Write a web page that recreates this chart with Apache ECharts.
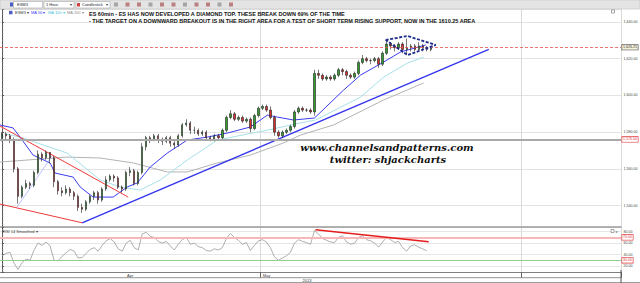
<!DOCTYPE html>
<html><head><meta charset="utf-8">
<script src="https://cdn.jsdelivr.net/npm/echarts@6/dist/echarts.min.js"></script>
<style>html,body{margin:0;padding:0;background:#fff}#c{width:640px;height:283px}</style>
</head><body><div id="c"></div>
<script>
// ---------- data ----------
const slotCount = 155; // hourly slots on the time axis (incl. empty future space)
const monthTicks = [[32, 'Apr'], [66, 'May']];
const monthStarts = [65, 130];
const yearLabel = '2013';
const titleLines = [
  'ES 60min - ES HAS NOW DEVELOPED A DIAMOND TOP. THESE BREAK DOWN 69% OF THE TIME',
  '- THE TARGET ON A DOWNWARD BREAKOUT IS IN THE RIGHT AREA FOR A TEST OF SHORT TERM RISING SUPPORT, NOW IN THE 1610.25 AREA'
];
const legendNames = ['ESM3', 'MA 50', 'MA 100', 'MA 200'];
const resistanceLevel = 1626.25;
const supportLevel = 1576.00;
const rsiBands = [70, 30];

// [open, close, low, high]
const candles = [
 [1577,1579,1575,1580],[1579,1578,1576,1580],[1578,1576,1574,1579],[1576,1560,1558,1577],[1560,1545,1541,1561],
 [1545,1550,1544,1551],[1550,1552,1549,1554],[1552,1551,1549,1553],[1551,1558,1550,1559],[1558,1568,1557,1570],
 [1568,1566,1564,1569],[1566,1569,1565,1570],[1569,1566,1563,1569],[1566,1553,1550,1567],[1553,1548,1546,1554],
 [1548,1547,1545,1550],[1547,1549,1546,1551],[1549,1547,1545,1550],[1547,1545,1543,1548],[1545,1539,1537,1546],
 [1539,1538,1536,1541],[1538,1542,1537,1543],[1542,1545,1541,1546],[1545,1547,1543,1548],[1547,1543,1541,1548],
 [1543,1549,1542,1550],[1549,1554,1548,1556],[1554,1556,1553,1557],[1556,1555,1553,1557],[1555,1550,1549,1556],
 [1550,1549,1547,1551],[1549,1558,1548,1559],[1558,1559,1556,1561],[1559,1552,1551,1560],[1552,1558,1551,1559],
 [1558,1572,1557,1574],[1572,1577,1570,1578],[1577,1576,1574,1578],[1576,1578,1575,1579],[1578,1576,1574,1579],
 [1576,1575,1573,1577],[1575,1577,1574,1578],[1577,1574,1572,1578],[1574,1573,1571,1575],[1573,1578,1572,1579],
 [1578,1584,1577,1585],[1584,1585,1583,1587],[1585,1581,1579,1586],[1581,1581,1579,1583],[1581,1579,1578,1582],
 [1579,1580,1578,1581],[1580,1577,1576,1581],[1577,1576,1575,1578],[1576,1578,1575,1579],[1578,1577,1576,1579],
 [1577,1581,1576,1582],[1581,1588,1580,1589],[1588,1590,1587,1592],[1590,1587,1586,1591],[1587,1588,1586,1589],
 [1588,1586,1585,1589],[1586,1587,1585,1588],[1587,1582,1580,1588],[1582,1589,1581,1590],[1589,1593,1588,1594],
 [1593,1594,1592,1595],[1594,1592,1591,1595],[1592,1588,1587,1594],[1588,1580,1578,1589],[1580,1578,1577,1581],
 [1578,1580,1577,1581],[1580,1581,1579,1582],[1581,1583,1580,1584],[1583,1591,1582,1592],[1591,1593,1590,1594],
 [1593,1592,1591,1594],[1592,1592,1591,1593],[1592,1591,1590,1593],[1591,1612,1589,1614],[1612,1611,1609,1614],
 [1611,1609,1608,1612],[1609,1610,1608,1611],[1610,1609,1608,1611],[1609,1611,1608,1612],[1611,1614,1610,1615],
 [1614,1613,1611,1615],[1613,1611,1609,1614],[1611,1610,1609,1612],[1610,1612,1609,1613],[1612,1618,1611,1619],
 [1618,1620,1617,1622],[1620,1619,1618,1621],[1619,1619,1617,1620],[1619,1620,1618,1621],[1620,1617,1615,1621],
 [1617,1623,1616,1624],[1623,1628,1622,1630],[1628,1627,1625,1629],[1627,1626,1624,1628],[1626,1628,1625,1629],
 [1628,1625,1623,1629],[1625,1626,1622,1631],[1626,1627,1624,1628],[1627,1625,1624,1628],[1625,1627,1624,1629],
 [1627,1626,1624,1628],[1626,1625,1624,1627],[1625,1626,1624,1627]
];
// moving averages: [slot, price]
const ma50 = [[-0.5,1583.9],[2.75,1582.3],[4.5,1577.3],[7.75,1567.5],[12,1563.2],[13.25,1557.7],[17.75,1555.5],
 [19.5,1550.1],[22.75,1544.6],[27.75,1544.6],[31.25,1550.1],[33.75,1552.3],[37,1561],[41.25,1568.6],[46.25,1575.7],
 [51.25,1577.3],[56.25,1579.5],[62,1582.8],[66.25,1589.3],[68.75,1588.2],[72.75,1586.6],[78,1587.7],[85.25,1602.9],
 [89.5,1611.1],[95.25,1618.2],[99.5,1623.7],[105.75,1627.5]];
const ma100 = [[1,1579],[4.5,1577.3],[16.25,1568.6],[24.5,1553.9],[29.5,1550.1],[34.5,1548.4],[39.5,1553.9],
 [46.25,1564.8],[53.75,1575.7],[66.25,1581.1],[74.5,1585],[78.25,1586.6],[89.5,1599.1],[95.25,1610],[101.25,1617.7],[105.25,1620.9]];
const ma200 = [[-0.5,1563.7],[16.25,1566.4],[24.5,1565.9],[32.75,1563.2],[41.25,1558.3],[46.25,1558.3],[53.75,1563.2],
 [62,1567.5],[70.25,1574.1],[74.5,1578.4],[82.75,1583.9],[95.25,1597.5],[105.25,1606.8]];
// drawn trend lines: [slot, price]
const risingSupport = [[20,1530.6],[121.5,1625.1]];
const fallingUpper = [[-0.5,1583.3],[31.5,1544.6]];
const fallingLower = [[-0.5,1540.8],[20,1530.6]];
const thinLine = [[3.75,1539.2],[12.5,1567]];
const diamond = [[95.75,1630.2],[101.2,1632.4],[108.25,1627.5],[101.25,1622],[95.75,1630.2]];
// RSI 14 smoothed, one value per candle
const rsi = [38,42,44,25,14,26,32,30,48,60,56,62,55,30,29,37,43,49,46,34,35,42,49,52,46,56,64,68,62,50,46,60,65,52,48,
 76,79,72,70,63,60,63,55,48,58,66,70,58,60,54,52,47,46,50,48,52,68,77,70,65,58,61,47,56,64,66,62,52,36,30,34,38,44,
 60,66,63,61,58,82,76,68,65,62,61,70,73,62,58,60,70,73,66,64,60,53,62,70,66,61,63,52,46,55,57,53,50,47];
const rsiDivergence = [[78.25,83.5],[106.5,62.5]];

// ---------- chart ----------
const chart = echarts.init(document.getElementById('c'), null, {renderer: 'svg'});
const cats = Array.from({length: slotCount}, () => '');
monthTicks.forEach(([i, l]) => { cats[i] = l; });
const fmtPrice = v => v.toLocaleString('en-US', {minimumFractionDigits: 2, maximumFractionDigits: 2});
const FF = 'Liberation Sans';
const axisFont = {fontSize: 3.6, color: '#444', fontFamily: FF};
const isBoundary = i => monthStarts.includes(i);
const boxLabel = (txt, color, border, bg) => ({show: true, formatter: txt, position: 'end', distance: 1.2, fontSize: 3.6,
  fontFamily: FF, color: color, borderColor: border, borderWidth: 0.7, backgroundColor: bg, padding: [0.6, 0.8, 0.2, 0.8]});
const lineSeries = (name, data, color, width, extra) => Object.assign({name, type: 'line', xAxisIndex: 1, yAxisIndex: 0,
  data, symbol: 'none', silent: true, lineStyle: {color, width}, z: 3}, extra || {});

const legendColors = ['#333', '#3b3bff', '#3fbfd8', '#888'];
const legendX = [15, 31, 48, 67];
const wmFont = 'italic bold 10px "DejaVu Serif"';
const graphics = [
  {type: 'rect', shape: {x: 0, y: 0, width: 640, height: 9}, style: {fill: '#e4e4e4', stroke: '#c4c4c4', lineWidth: 0.6}, z: 10},
  {type: 'rect', shape: {x: 10, y: 2.5, width: 3, height: 4}, style: {fill: '#4a5fc1'}, z: 11},
  {type: 'rect', shape: {x: 13.5, y: 1.5, width: 29, height: 6.5}, style: {fill: '#fff', stroke: '#9a9a9a', lineWidth: 0.5}, z: 11},
  {type: 'text', style: {text: 'ESM3', x: 17, y: 4.8, fill: '#223', font: '4px ' + FF, verticalAlign: 'middle'}, z: 12},
  {type: 'rect', shape: {x: 44, y: 1.5, width: 30, height: 6.5}, style: {fill: '#fff', stroke: '#9a9a9a', lineWidth: 0.5}, z: 11},
  {type: 'text', style: {text: '1 Hour', x: 46, y: 4.8, fill: '#223', font: '4px ' + FF, verticalAlign: 'middle'}, z: 12},
  {type: 'text', style: {text: '▾', x: 70, y: 4.8, fill: '#333', font: '4px ' + FF, verticalAlign: 'middle'}, z: 12},
  {type: 'rect', shape: {x: 76, y: 1.5, width: 34, height: 6.5}, style: {fill: '#fff', stroke: '#9a9a9a', lineWidth: 0.5}, z: 11},
  {type: 'text', style: {text: 'Candlestick', x: 82, y: 4.8, fill: '#223', font: '4px ' + FF, verticalAlign: 'middle'}, z: 12},
  {type: 'text', style: {text: '▾', x: 106, y: 4.8, fill: '#333', font: '4px ' + FF, verticalAlign: 'middle'}, z: 12},
  {type: 'rect', shape: {x: 77, y: 3, width: 3, height: 3.5}, style: {fill: '#c44'}, z: 12},
  {type: 'text', style: {text: 'RSI 14 Smoothed ▾', x: 3, y: 231, fill: '#333', font: '4px ' + FF, verticalAlign: 'middle'}, z: 12},
  {type: 'text', style: {text: yearLabel, x: 307, y: 280.3, fill: '#333', font: '4px ' + FF, align: 'center', verticalAlign: 'middle'}, z: 12},
  {type: 'line', shape: {x1: 0, y1: 277.7, x2: 621, y2: 277.7}, style: {stroke: '#666', lineWidth: 0.7}, z: 12},
  {type: 'line', shape: {x1: 0, y1: 282.6, x2: 640, y2: 282.6}, style: {stroke: '#666', lineWidth: 0.7}, z: 12},
  {type: 'line', shape: {x1: 621, y1: 270, x2: 621, y2: 283}, style: {stroke: '#555', lineWidth: 1}, z: 12},
  {type: 'rect', shape: {x: 611.5, y: 10, width: 3, height: 3}, style: {fill: '#fff', stroke: '#555', lineWidth: 0.5}, z: 12},
  {type: 'rect', shape: {x: 611, y: 229.5, width: 3, height: 3}, style: {fill: '#fff', stroke: '#555', lineWidth: 0.5}, z: 12},
  {type: 'text', style: {text: 'x', x: 615.5, y: 231, fill: '#333', font: '4px ' + FF, verticalAlign: 'middle'}, z: 12},
  {type: 'rect', shape: {x: 9, y: 10.8, width: 3.5, height: 3.5}, style: {fill: '#4a5fc1'}, z: 12},
  {type: 'text', style: {text: 'www.channelsandpatterns.com', x: 387, y: 147.5, fill: '#111', align: 'center', verticalAlign: 'middle',
    font: wmFont}, z: 12},
  {type: 'text', style: {text: 'twitter: shjackcharts', x: 388, y: 159.5, fill: '#111', align: 'center', verticalAlign: 'middle',
    font: wmFont}, z: 12}
];
for (let i = 0; i < 11; i++) {
  graphics.push({type: 'rect', shape: {x: 114 + i * 11.5, y: 2.5, width: 4, height: 4}, style: {fill: i % 3 === 0 ? '#8a8a8a' : '#a55', opacity: 0.7}, z: 11});
}
legendNames.forEach((n, i) => graphics.push({type: 'text', style: {text: n + ' ▾', x: legendX[i], y: 12.6,
  fill: legendColors[i], font: '4px ' + FF, verticalAlign: 'middle'}, z: 12}));

const option = {
  animation: false,
  backgroundColor: '#fff',
  title: {text: titleLines.join('\n'), left: 89, top: 10, padding: 0,
    textStyle: {fontSize: 5.5, fontWeight: 'bold', fontFamily: FF, color: '#111', lineHeight: 7.6}},
  grid: [{left: 0, right: 19, top: 9, height: 218, outerBoundsMode: 'none'},
         {left: 0, right: 19, top: 227, height: 45, outerBoundsMode: 'none'}],
  xAxis: [
    {type: 'category', gridIndex: 0, position: 'bottom', data: cats, boundaryGap: true,
      axisLine: {show: true, lineStyle: {color: '#9a9a9a', width: 1.5}}, axisTick: {show: false}, axisLabel: {show: false},
      splitLine: {show: true, interval: isBoundary, lineStyle: {color: '#dadada', width: 1}}},
    {type: 'value', gridIndex: 0, position: 'top', min: -0.5, max: slotCount - 0.5, show: false},
    {type: 'value', gridIndex: 1, position: 'top', min: -0.5, max: slotCount - 0.5, show: false},
    {type: 'category', gridIndex: 1, position: 'bottom', data: cats, boundaryGap: true,
      axisLine: {show: true, lineStyle: {color: '#666', width: 0.8}},
      axisTick: {show: true, interval: isBoundary, length: 5.7, lineStyle: {color: '#666'}},
      axisLabel: Object.assign({show: true, interval: (i, v) => v !== '', margin: 1.2}, axisFont, {fontSize: 4}),
      splitLine: {show: true, interval: isBoundary, lineStyle: {color: '#dadada'}}}
  ],
  yAxis: [
    {type: 'value', gridIndex: 0, position: 'right', min: 1528.3, max: 1647.1, minInterval: 20, maxInterval: 20,
      axisLine: {show: true, lineStyle: {color: '#555'}}, axisTick: {show: true, length: 2, lineStyle: {color: '#555'}},
      minorTick: {show: true, splitNumber: 10, length: 1.2, lineStyle: {color: '#777'}},
      axisLabel: Object.assign({showMinLabel: false, showMaxLabel: false, margin: 2.5, formatter: fmtPrice}, axisFont),
      splitLine: {show: true, lineStyle: {color: '#e3e3e3'}}},
    {type: 'value', gridIndex: 1, position: 'right', min: 9.5, max: 88.2, minInterval: 20, maxInterval: 20,
      axisLine: {show: true, lineStyle: {color: '#555'}}, axisTick: {show: true, length: 2, lineStyle: {color: '#555'}},
      minorTick: {show: true, splitNumber: 4, length: 1.2, lineStyle: {color: '#777'}},
      axisLabel: Object.assign({showMinLabel: false, showMaxLabel: false, margin: 2.5, formatter: v => v.toFixed(2)}, axisFont),
      splitLine: {show: true, lineStyle: {color: '#e6e6e6'}}}
  ],
  series: [
    {name: 'ESM3', type: 'candlestick', xAxisIndex: 0, yAxisIndex: 0, data: candles, barWidth: 1.8, z: 4,
      itemStyle: {color: '#2f9e2f', color0: '#d43030', borderColor: '#1f1f1f', borderColor0: '#1f1f1f', borderWidth: 0.6},
      markLine: {symbol: 'none', silent: true, animation: false, data: [
        {yAxis: resistanceLevel, lineStyle: {color: '#e85050', type: [3, 2], width: 0.8},
          label: boxLabel(fmtPrice(resistanceLevel), '#333', '#555', '#f6f3dc')},
        {yAxis: supportLevel, lineStyle: {color: '#a9a9a9', type: 'solid', width: 2},
          label: boxLabel(fmtPrice(supportLevel), '#e04040', '#e04040', '#fff')}
      ]}},
    lineSeries('MA 200', ma200, '#b3b3b3', 1),
    lineSeries('MA 100', ma100, '#a6e0e6', 1),
    lineSeries('MA 50', ma50, '#3d3df0', 1),
    lineSeries('Rising support', risingSupport, '#3535ee', 1.4),
    lineSeries('Falling upper', fallingUpper, '#ee3a3a', 1),
    lineSeries('Falling lower', fallingLower, '#ee3a3a', 1),
    lineSeries('Thin', thinLine, '#9fa8ff', 0.7),
    lineSeries('Diamond', diamond, '#1b2a8a', 1.8, {lineStyle: {color: '#1b2a8a', width: 1.8, type: [3, 1.6]}, z: 6}),
    {name: 'RSI', type: 'line', xAxisIndex: 2, yAxisIndex: 1, data: rsi.map((v, i) => [i, v]), symbol: 'none', silent: true,
      lineStyle: {color: '#9a9a9a', width: 0.8}, z: 4,
      markLine: {symbol: 'none', silent: true, animation: false, data: [
        {yAxis: rsiBands[0], lineStyle: {color: '#f6b8b8', type: 'solid', width: 2},
          label: boxLabel(rsiBands[0].toFixed(2), '#e04040', '#e04040', '#fff')},
        {yAxis: rsiBands[1], lineStyle: {color: '#8fcf8f', type: 'solid', width: 1},
          label: boxLabel(rsiBands[1].toFixed(2), '#e04040', '#e04040', '#fff')}
      ]}},
    {name: 'RSI divergence', type: 'line', xAxisIndex: 2, yAxisIndex: 1, data: [], silent: true,
      markLine: {silent: true, animation: false, symbol: ['none', 'arrow'], symbolSize: [0, 5],
        lineStyle: {color: '#e51c1c', width: 1.4, type: 'solid'}, label: {show: false},
        data: [[{coord: rsiDivergence[0]}, {coord: rsiDivergence[1]}]]}}
  ],
  graphic: graphics
};
chart.setOption(option);
</script></body></html>
